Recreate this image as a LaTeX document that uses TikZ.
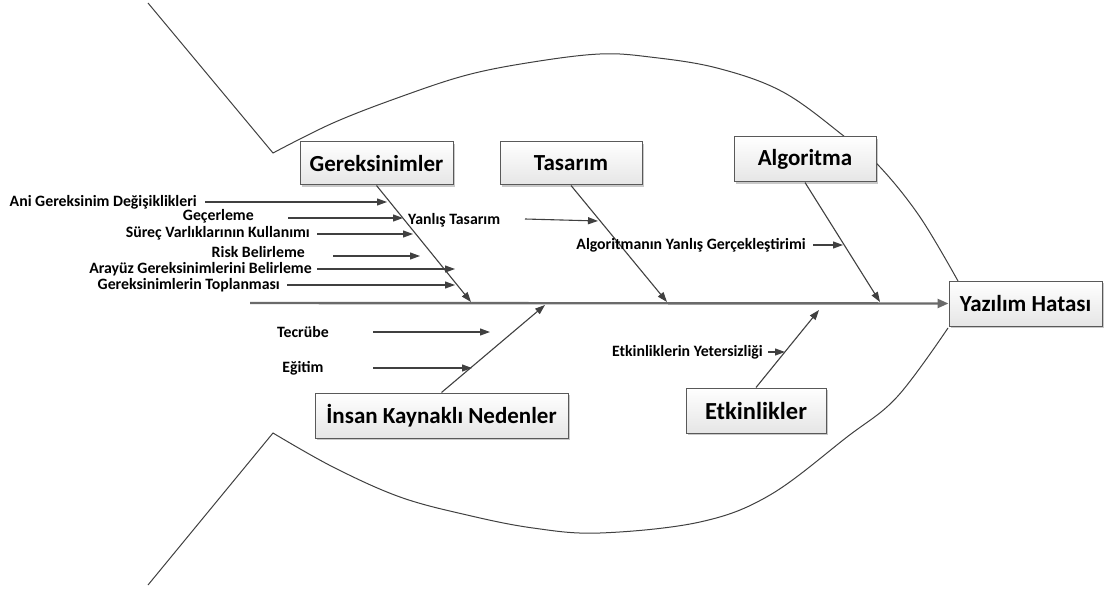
\documentclass[tikz,border=0pt]{standalone}
\usepackage{fontspec}
\setmainfont{Carlito}
\usetikzlibrary{arrows.meta,shadows}
\definecolor{linegray}{HTML}{404040}
\definecolor{spinegray}{HTML}{6A6A6A}
\begin{document}
\begin{tikzpicture}[x=1pt,y=-1pt,
  catbox/.style={draw=black!65, line width=1pt, top color=white, bottom color=black!10,
    drop shadow={shadow xshift=2pt, shadow yshift=-2pt, opacity=0.3, fill=black!70},
    font=\fontsize{23}{27}\selectfont\bfseries, inner sep=0pt, minimum height=43pt},
  cause/.style={font=\fontsize{15.8}{18}\selectfont\bfseries, inner sep=0pt},
  body/.style={draw=linegray, line width=1pt, line join=miter},
  bone/.style={draw=linegray, line width=1.1pt, -{Triangle[length=10pt,width=7pt]}},
  spine/.style={draw=spinegray, line width=2.4pt, -{Triangle[length=11pt,width=9pt]}}]
\useasboundingbox (0,0) rectangle (1104,591);

% fish outline: tail fins and body curves
\draw[body] (148,3) -- plot[smooth, tension=0.6] coordinates {(273,153) (333,123) (400,97) (467,75) (533,62) (600,54) (650,57) (717,68) (783,92) (845,137) (880,167) (920,217) (958,281)};
\draw[body] (148,585) -- plot[smooth, tension=0.6] coordinates {(273,433) (333,467) (400,497) (467,515) (533,528) (600,533) (700,522) (770,495) (847,437) (897,397) (948,328)};

% category boxes and effect box
\node[catbox, minimum width=153pt] (ger) at (376.5,163.5) {Gereksinimler};
\node[catbox, minimum width=142pt] (tas) at (571,163.5) {Tasarım};
\node[catbox, minimum width=142pt, minimum height=45pt] (alg) at (805,159.5) {Algoritma};
\node[catbox, minimum width=153pt, minimum height=45pt] (yaz) at (1025.5,303.5) {Yazılım Hatası};
\node[catbox, minimum width=253pt, minimum height=45pt] (ins) at (441.5,415.5) {İnsan Kaynaklı Nedenler};
\node[catbox, minimum width=140pt, minimum height=45pt, font=\fontsize{24.5}{28}\selectfont\bfseries] (etk) at (756,410.5) {Etkinlikler};

% spine
\coordinate (tail) at (250,303);
\draw[spine] (tail) -- (yaz.west);

% main bones meeting the spine
\coordinate (gerS) at (471,302);
\coordinate (tasS) at (667,302);
\coordinate (algS) at (880,302);
\coordinate (insS) at (545,305);
\coordinate (etkS) at (819,310);
\draw[bone] (ger.south) -- (gerS);
\draw[bone] (tas.south) -- (tasS);
\draw[bone] (alg.south) -- (algS);
\draw[bone] (ins.north) -- (insS);
\draw[bone] (etk.north) -- (etkS);

% causes
\node[cause, anchor=east] (c1) at (197,202) {Ani Gereksinim Değişiklikleri};
\node[cause, anchor=east] (c2) at (254,216) {Geçerleme};
\node[cause, anchor=east] (c3) at (310,233) {Süreç Varlıklarının Kullanımı};
\node[cause, anchor=east] (c4) at (305,252) {Risk Belirleme};
\node[cause, anchor=east] (c5) at (312,269) {Arayüz Gereksinimlerini Belirleme};
\node[cause, anchor=east] (c6) at (280,285) {Gereksinimlerin Toplanması};
\node[cause, anchor=west] (c7) at (408,220) {Yanlış Tasarım};
\node[cause, anchor=east] (c8) at (806,245) {Algoritmanın Yanlış Gerçekleştirimi};
\node[cause] (c9) at (303,332) {Tecrübe};
\node[cause] (c10) at (303,368) {Eğitim};
\node[cause, anchor=east] (c11) at (763,352) {Etkinliklerin Yetersizliği};

% cause arrows
\coordinate (a1) at (205,202);  \coordinate (b1) at (387,202);
\coordinate (a2) at (288,218);  \coordinate (b2) at (403,218);
\coordinate (a3) at (317,234);  \coordinate (b3) at (413,234);
\coordinate (a4) at (333,256);  \coordinate (b4) at (420,256);
\coordinate (a5) at (317,269);  \coordinate (b5) at (455,269);
\coordinate (a6) at (287,285);  \coordinate (b6) at (455,285);
\coordinate (a7) at (525,219);  \coordinate (b7) at (598,221);
\coordinate (a8) at (813,245);  \coordinate (b8) at (843,245);
\coordinate (a9) at (373,332);  \coordinate (b9) at (490,332);
\coordinate (a10) at (373,368); \coordinate (b10) at (472,368);
\coordinate (a11) at (768,352); \coordinate (b11) at (785,352);
\foreach \i in {1,...,11} \draw[bone] (a\i) -- (b\i);
\end{tikzpicture}
\end{document}
